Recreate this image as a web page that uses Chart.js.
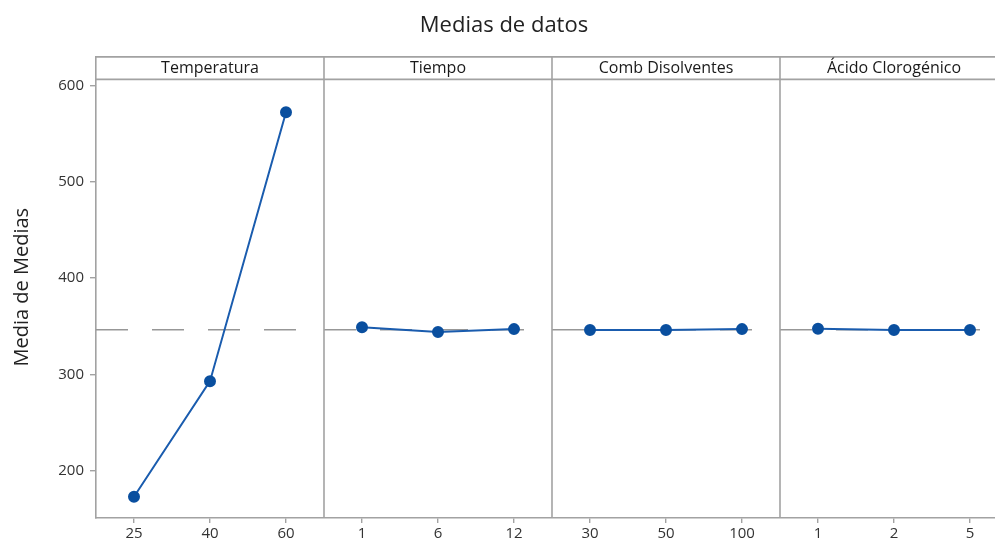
<!DOCTYPE html>
<html>
<head>
<meta charset="utf-8">
<script src="https://cdn.jsdelivr.net/npm/chart.js@4/dist/chart.umd.min.js"></script>
<style>
  html, body { margin: 0; padding: 0; background: #fff; overflow: hidden; }
  #wrap { width: 1034px; height: 542px; }
</style>
</head>
<body>
<div id="wrap"><canvas id="c" width="1034" height="542"></canvas></div>
<script>
// Factors shown as panels, left to right
const factors = ['Temperatura', 'Tiempo', 'Comb Disolventes', 'Ácido Clorogénico'];

// Levels of each factor (x tick labels)
const temperaturaLevels = ['25', '40', '60'];
const tiempoLevels = ['1', '6', '12'];
const disolventesLevels = ['30', '50', '100'];
const acidoLevels = ['1', '2', '5'];

// Mean response at each level
const temperaturaMeans = [173, 293, 572];
const tiempoMeans = [349, 344, 347];
const disolventesMeans = [346, 346, 347];
const acidoMeans = [347.5, 346, 346];

// Y axis tick values
const yTicks = [200, 300, 400, 500, 600];

const levelGroups = [temperaturaLevels, tiempoLevels, disolventesLevels, acidoLevels];
const meanGroups = [temperaturaMeans, tiempoMeans, disolventesMeans, acidoMeans];

const allMeans = meanGroups.flat();
const grandMean = allMeans.reduce((a, b) => a + b, 0) / allMeans.length;

const labels = levelGroups.flat();
const perPanel = 3;

const AXIS_GREY = '#a2a2a2';
const LINE_BLUE = '#1a5cae';
const MARK_BLUE = '#0a4f9f';
const FONT = '"Open Sans", "Noto Sans", sans-serif';

// One dataset per factor; other panels are left empty so lines stay within a panel
const datasets = meanGroups.map((vals, p) => {
  const data = labels.map(() => null);
  vals.forEach((v, j) => { data[p * perPanel + j] = v; });
  return {
    label: factors[p],
    data,
    borderColor: LINE_BLUE,
    borderWidth: 2,
    backgroundColor: MARK_BLUE,
    pointBackgroundColor: MARK_BLUE,
    pointBorderColor: MARK_BLUE,
    pointRadius: 5,
    pointStyle: 'circle',
    spanGaps: false,
    tension: 0
  };
});

const HEADER_H = 23;

// Panel frames, header strip, factor names and the grand-mean reference line
const panelPlugin = {
  id: 'panels',
  beforeDatasetsDraw(chart) {
    const { ctx, scales } = chart;
    const x = scales.x, y = scales.y;
    const yMean = y.getPixelForValue(grandMean);
    ctx.save();
    ctx.strokeStyle = '#979797';
    ctx.lineWidth = 1.6;
    ctx.setLineDash([32, 24]);
    for (let p = 0; p < factors.length; p++) {
      const x0 = x.getPixelForValue(p * perPanel - 0.5);
      const x1 = x.getPixelForValue(p * perPanel + perPanel - 0.5);
      ctx.beginPath();
      ctx.moveTo(x0, yMean);
      ctx.lineTo(x1 - 18, yMean);
      ctx.stroke();
    }
    ctx.restore();
  },
  afterDraw(chart) {
    const { ctx, chartArea, scales } = chart;
    const x = scales.x;
    const top = chartArea.top;
    ctx.save();
    ctx.strokeStyle = AXIS_GREY;
    ctx.lineWidth = 1.6;
    // top border and header bottom line
    ctx.beginPath();
    ctx.moveTo(chartArea.left, top + 0.5);
    ctx.lineTo(chartArea.right, top + 0.5);
    ctx.moveTo(chartArea.left, top + HEADER_H);
    ctx.lineTo(chartArea.right, top + HEADER_H);
    ctx.stroke();
    // panel separators
    for (let p = 1; p <= factors.length; p++) {
      const xs = x.getPixelForValue(p * perPanel - 0.5);
      ctx.beginPath();
      ctx.moveTo(xs, top);
      ctx.lineTo(xs, chartArea.bottom);
      ctx.stroke();
    }
    // factor names
    ctx.fillStyle = '#1a1a1a';
    ctx.font = '16px ' + FONT;
    ctx.textAlign = 'center';
    ctx.textBaseline = 'middle';
    for (let p = 0; p < factors.length; p++) {
      const x0 = x.getPixelForValue(p * perPanel - 0.5);
      const x1 = x.getPixelForValue(p * perPanel + perPanel - 0.5);
      ctx.fillText(factors[p], (x0 + x1) / 2, top + HEADER_H / 2 + 0.5);
    }
    ctx.restore();
  }
};

new Chart(document.getElementById('c'), {
  type: 'line',
  data: { labels, datasets },
  plugins: [panelPlugin],
  options: {
    responsive: false,
    animation: false,
    events: [],
    layout: { padding: { left: 0, right: 26, top: 0, bottom: 0 } },
    plugins: {
      legend: { display: false },
      tooltip: { enabled: false },
      title: {
        display: true,
        text: 'Medias de datos',
        color: '#222',
        font: { family: FONT, size: 22, weight: 'normal' },
        padding: { top: 13, bottom: 17 }
      }
    },
    scales: {
      x: {
        type: 'category',
        offset: true,
        border: { display: true, color: AXIS_GREY, width: 1.6 },
        grid: {
          display: true,
          drawOnChartArea: false,
          drawTicks: true,
          offset: false,
          tickLength: 5,
          color: AXIS_GREY,
          lineWidth: 1.4
        },
        ticks: {
          color: '#333',
          font: { family: FONT, size: 15 },
          padding: 2,
          maxRotation: 0,
          autoSkip: false
        },
        afterFit(scale) { scale.height = 24; }
      },
      y: {
        type: 'linear',
        min: 151,
        max: 630,
        border: { display: true, color: AXIS_GREY, width: 1.6 },
        grid: {
          display: true,
          drawOnChartArea: false,
          drawTicks: true,
          tickLength: 6,
          color: AXIS_GREY,
          lineWidth: 1.4
        },
        afterBuildTicks(scale) {
          scale.ticks = yTicks.map(v => ({ value: v }));
        },
        ticks: {
          color: '#333',
          font: { family: FONT, size: 15 },
          padding: 6
        },
        title: {
          display: true,
          text: 'Media de Medias',
          color: '#222',
          font: { family: FONT, size: 20 },
          padding: { top: 10, bottom: 0 }
        },
        afterFit(scale) { scale.width = 96; }
      }
    }
  }
});
</script>
</body>
</html>
